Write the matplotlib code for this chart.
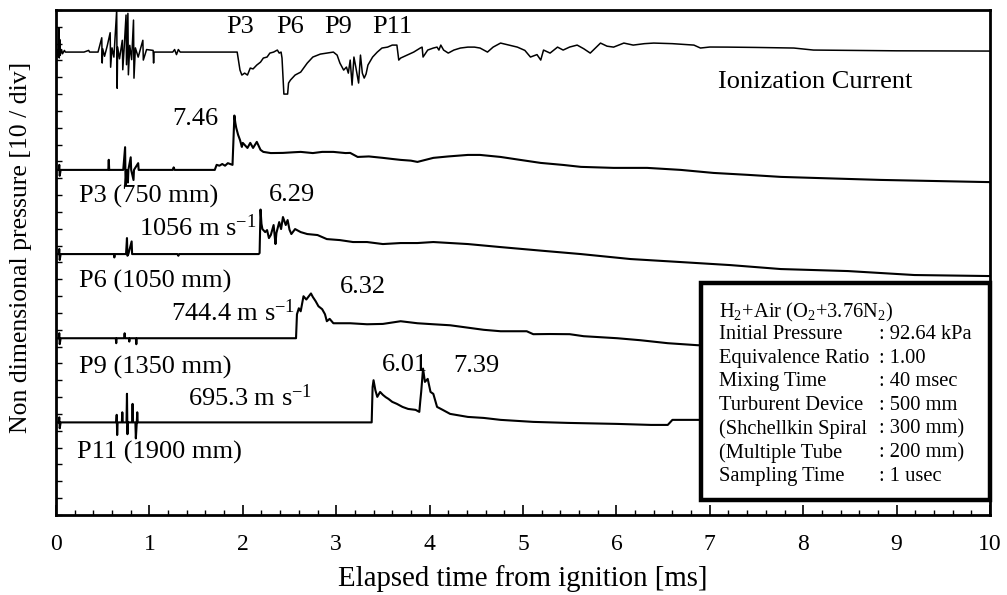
import matplotlib
matplotlib.use("Agg")
import matplotlib.pyplot as plt
from matplotlib.patches import Rectangle
from matplotlib.ticker import MultipleLocator

plt.rcParams["font.family"] = ["Liberation Serif", "DejaVu Serif"]
plt.rcParams["mathtext.fontset"] = "custom"
plt.rcParams["mathtext.rm"] = "Liberation Serif"
plt.rcParams["mathtext.it"] = "Liberation Serif:italic"

# ---- Ionization current (relative to its own baseline) ----
ion_t = [0.0, 0.02, 0.025, 0.03, 0.035, 0.04, 0.045, 0.06, 0.07, 0.09, 0.1,
         0.3, 0.35, 0.36, 0.45, 0.49, 0.495, 0.5, 0.52, 0.55, 0.58, 0.585, 0.6,
         0.62, 0.65, 0.655, 0.66, 0.68, 0.71, 0.715, 0.73, 0.75, 0.755, 0.77,
         0.775, 0.79, 0.81, 0.83, 0.835, 0.85, 0.88, 0.93, 0.935, 0.97, 1.04,
         1.045, 1.05, 1.25, 1.27, 1.29, 1.31, 1.33, 1.94,
         1.97, 1.99, 2.02, 2.05, 2.08, 2.11, 2.15, 2.19, 2.22, 2.26, 2.29, 2.33,
         2.37, 2.39, 2.41, 2.42, 2.43, 2.44, 2.48, 2.49, 2.51, 2.56, 2.62, 2.69,
         2.75, 2.83, 2.90, 2.97, 3.01, 3.04, 3.08, 3.11, 3.13, 3.15, 3.17, 3.19,
         3.21, 3.24, 3.26, 3.28, 3.30, 3.32, 3.34, 3.39, 3.44, 3.49, 3.55, 3.60,
         3.65, 3.67, 3.69, 3.76, 3.83, 3.90, 3.92, 3.93, 3.98, 4.04, 4.08, 4.10,
         4.12, 4.15, 4.20, 4.26, 4.33, 4.41, 4.48, 4.54, 4.62, 4.68, 4.76, 4.85,
         4.94, 5.02, 5.08, 5.15, 5.19, 5.22, 5.29, 5.37, 5.43, 5.50, 5.58, 5.65,
         5.72, 5.83, 5.90, 5.97, 6.08, 6.18, 6.30, 6.40, 6.60, 6.83, 6.90, 7.00,
         7.19, 7.50, 7.90, 8.11, 9.00, 9.90, 10.0]
ion_v = [0.0, 0.3, -0.6, 2.9, -0.7, 1.5, -0.4, 0.3, -0.2, 0.2, 0.0,
         0.0, 0.2, 0.0, 0.0, 1.7, -1.3, 0.4, -0.5, 0.8, 2.3, -1.8, 0.5,
         -0.6, 5.0, -4.3, 0.6, -0.8, 1.4, -2.1, 0.5, 4.4, -1.5, 4.6,
         -2.7, 0.8, -0.9, 3.8, -3.1, 0.5, -0.6, 1.4, -0.95, 0.3, 0.2,
         -1.3, 0.0, 0.0, 0.3, -0.3, 0.3, 0.0, 0.0,
         -2.14, -2.73, -2.5, -2.73, -1.9, -2.0, -1.54, -1.19, -0.71, -0.59, -0.12, 0.0,
         0.24, -0.12, 0.0, -0.71, -2.97, -4.99, -4.99, -3.68, -3.33, -2.73, -2.38, -1.31,
         -0.59, -0.24, -0.12, 0.0, -0.36, -1.31, -2.14, -1.78, -2.5, -0.95, -3.92, -0.59,
         -1.78, -3.68, -0.36, -2.5, -3.09, -2.6, -1.54, -0.59, 0.0, 0.48, 0.59, 0.83,
         0.83, -0.95, -0.71, -0.36, 0.0, 0.48, 0.59, -0.59, 0.24, 0.48, 0.59, 0.24,
         0.83, 0.24, -0.12, 0.24, 0.48, 0.59, 0.59, 0.48, 0.0, 0.59, 1.07, 0.83,
         0.59, 0.2, -0.59, -0.3, -0.95, 0.24, -0.12, 0.59, 0.24, 0.6, 0.83, 0.4,
         -0.12, 1.07, 0.7, 0.59, 1.07, 0.83, 1.0, 1.07, 1.0, 0.83, 0.48, 0.6,
         0.59, 0.55, 0.48, 0.24, 0.15, 0.12, 0.12]

# ---- Non-dimensional pressure p/p0 ----
p3_t = [0.0, 0.03, 0.035, 0.04, 0.05, 0.56, 0.565, 0.57, 0.72, 0.74, 0.745,
        0.755, 0.77, 0.775, 0.80, 0.805, 0.83, 0.835, 0.88, 0.885, 1.25, 1.26,
        1.27, 1.70, 1.72, 1.75, 1.78, 1.81, 1.84, 1.89,
        1.91, 1.92, 1.93, 1.95, 1.97, 1.99, 2.00, 2.05, 2.08, 2.11, 2.15, 2.19,
        2.22, 2.30, 2.43, 2.55, 2.62, 2.75, 2.85, 2.97, 3.10, 3.15, 3.23, 3.35,
        3.50, 3.60, 3.69, 3.80, 3.87, 4.04, 4.20, 4.41, 4.54, 4.76, 4.97, 5.19,
        5.43, 5.62, 5.97, 6.33, 6.69, 7.04, 7.41, 7.76, 8.11, 8.83, 9.90, 10.0]
p3_v = [1.0, 1.0, 1.6, 0.3, 1.0, 1.0, 2.2, 1.0, 1.0, 3.7, -0.8,
        1.0, -0.5, 1.0, 2.5, 1.0, -0.2, 1.0, 1.8, 1.0, 1.0, 1.3,
        1.0, 1.0, 1.6, 1.5, 1.7, 1.5, 1.8, 1.6,
        7.46, 6.6, 5.99, 5.16, 4.56, 3.73, 4.21, 3.61, 4.21, 3.61, 4.33, 3.38,
        3.14, 3.0, 3.02, 3.1, 3.14, 3.0, 3.14, 3.14, 3.0, 3.02, 2.54, 2.6,
        2.43, 2.3, 2.19, 2.1, 1.95, 2.43, 2.6, 2.78, 2.78, 2.54, 2.19, 1.83,
        1.59, 1.36, 1.24, 1.24, 1.0, 0.64, 0.41, 0.17, 0.05, -0.19, -0.43, -0.45]

p6_t = [0.0, 0.03, 0.035, 0.04, 0.05, 0.62, 0.625, 0.63, 0.75, 0.76, 0.765,
        0.775, 0.81, 0.815, 0.9, 1.3, 1.31, 1.32, 2.17, 2.18,
        2.19, 2.20, 2.21, 2.24, 2.26, 2.28, 2.30, 2.33, 2.35, 2.36, 2.39, 2.41,
        2.43, 2.46, 2.48, 2.50, 2.52, 2.56, 2.62, 2.69, 2.80, 2.90, 3.04, 3.18,
        3.33, 3.50, 3.69, 3.87, 4.04, 4.41, 4.76, 5.20, 5.62, 6.15, 6.69, 7.22,
        7.76, 8.48, 9.19, 9.98, 10.0]
p6_v = [1.0, 1.0, 1.6, 0.3, 1.0, 1.0, 0.6, 1.0, 1.0, 2.9, 0.8,
        1.0, 2.5, 1.0, 1.0, 1.0, 0.8, 1.0, 1.0, 1.12,
        6.29, 4.6, 3.97, 3.61, 3.85, 2.9, 3.26, 4.45, 2.19, 3.5, 4.80, 3.97,
        5.40, 4.45, 5.04, 3.9, 3.38, 3.97, 3.61, 3.38, 3.26, 2.78, 2.66, 2.43,
        2.43, 2.19, 2.31, 2.31, 2.43, 2.19, 1.83, 1.4, 1.0, 0.41, 0.05, -0.31,
        -0.78, -1.02, -1.49, -1.61, -1.61]

p9_t = [0.0, 0.03, 0.035, 0.04, 0.05, 0.64, 0.645, 0.65, 0.73, 0.735, 0.74,
        0.78, 0.785, 0.79, 0.855, 0.86, 0.865, 2.57,
        2.58, 2.60, 2.62, 2.65, 2.68, 2.73, 2.75, 2.78, 2.81, 2.85, 2.88, 2.90,
        2.93, 2.97, 3.15, 3.33, 3.50, 3.69, 3.87, 4.04, 4.22, 4.58, 4.76, 5.04,
        5.11, 5.29, 5.50, 5.65, 6.01, 6.26, 6.55, 6.87, 7.50, 10.0]
p9_v = [1.0, 1.0, 1.6, 0.3, 1.0, 1.0, 0.41, 1.0, 1.0, 1.59, 1.0,
        1.0, 0.6, 1.0, 1.0, 0.29, 1.0, 1.0,
        3.85, 4.56, 4.2, 5.99, 5.6, 6.32, 5.9, 5.40, 4.80, 4.45, 3.85, 3.02,
        3.3, 2.78, 2.78, 2.66, 2.7, 3.02, 2.78, 2.66, 2.54, 2.0, 1.83, 1.83,
        1.48, 1.5, 1.48, 1.24, 1.0, 0.76, 0.41, 0.17, 0.0, -0.3]

p11_t = [0.0, 0.03, 0.035, 0.04, 0.05, 0.645, 0.65, 0.655, 0.66, 0.705, 0.71,
         0.715, 0.755, 0.76, 0.765, 0.77, 0.815, 0.82, 0.825, 0.85, 0.855,
         0.865, 0.87, 0.875, 3.38,
         3.39, 3.40, 3.42, 3.44, 3.47, 3.50, 3.53, 3.56, 3.60, 3.65, 3.71, 3.77,
         3.85, 3.89, 3.90, 3.91, 3.93, 3.95, 3.98, 4.01, 4.04, 4.08, 4.14, 4.22,
         4.41, 4.58, 4.76, 5.11, 5.48, 6.01, 6.37, 6.55, 6.60, 6.87, 8.0, 10.0]
p11_v = [1.0, 1.0, 1.6, 0.3, 1.0, 1.0, 1.9, -0.5, 1.0, 1.0, 2.2,
         1.0, 1.0, 4.4, -0.4, 1.0, 1.0, 3.2, 1.0, 1.0, -0.9,
         1.0, 2.2, 1.0, 1.0,
         5.2, 6.01, 4.8, 4.03, 4.62, 4.27, 4.0, 3.79, 3.44, 3.20, 2.84, 2.60,
         2.49, 2.25, 3.5, 4.62, 7.39, 5.81, 6.17, 4.62, 4.39, 2.84, 2.49, 2.01,
         1.65, 1.53, 1.30, 1.06, 0.94, 0.82, 0.70, 0.70, 1.30, 1.30, 1.2, 1.1]

# vertical position of each trace on the 10/div grid
ion_offset = 55.0
p_offsets = [40.0, 30.0, 20.0, 10.0]
p_series = [(p3_t, p3_v), (p6_t, p6_v), (p9_t, p9_v), (p11_t, p11_v)]

fig = plt.figure(figsize=(10.07, 5.95), dpi=100)
ax = fig.add_axes([0.0556, 0.1345, 0.9275, 0.8487])

ax.plot(ion_t, [ion_offset + v for v in ion_v], color="black", lw=1.1, zorder=3)
for off, (t, v) in zip(p_offsets, p_series):
    ax.plot(t, [off + val for val in v], color="black", lw=1.5, zorder=3)

ax.set_xlim(0, 10)
ax.set_ylim(0, 60)
ax.xaxis.set_major_locator(MultipleLocator(1))
ax.xaxis.set_minor_locator(MultipleLocator(0.2))
ax.yaxis.set_major_locator(MultipleLocator(2))
ax.set_yticklabels([])
ax.tick_params(axis="x", which="major", direction="in", length=7, width=1.2,
               labelsize=17, pad=14, top=False)
ax.tick_params(axis="x", which="minor", direction="in", length=3.5, width=1.0,
               top=False)
ax.tick_params(axis="y", which="major", direction="in", length=4, width=1.0,
               right=False)
for sp in ax.spines.values():
    sp.set_linewidth(2.0)

ax.set_xlabel("Elapsed time from ignition [ms]", fontsize=20.8, labelpad=7)
ax.set_ylabel("Non dimensional pressure [10 / div]", fontsize=18.5)
ax.yaxis.set_label_coords(-0.026, 0.529)

fs = 19
ax.text(1.97, 58.0, "P3", fontsize=fs, ha="center", va="center")
ax.text(2.51, 58.0, "P6", fontsize=fs, ha="center", va="center")
ax.text(3.02, 58.0, "P9", fontsize=fs, ha="center", va="center")
ax.text(3.60, 58.0, "P11", fontsize=fs, ha="center", va="center")
ax.text(8.13, 51.4, "Ionization Current", fontsize=fs, ha="center", va="center")

ax.text(1.49, 47.1, "7.46", fontsize=fs, ha="center", va="center")
ax.text(0.25, 37.8, "P3 (750 mm)", fontsize=fs, ha="left", va="center")
ax.text(2.53, 38.0, "6.29", fontsize=fs, ha="center", va="center")
ax.text(2.15, 34.1, r"1056 m s$^{\mathregular{-1}}$", fontsize=fs, ha="right", va="center")
ax.text(0.25, 27.7, "P6 (1050 mm)", fontsize=fs, ha="left", va="center")
ax.text(3.29, 27.1, "6.32", fontsize=fs, ha="center", va="center")
ax.text(2.56, 24.0, r"744.4 m s$^{\mathregular{-1}}$", fontsize=fs, ha="right", va="center")
ax.text(0.25, 17.5, "P9 (1350 mm)", fontsize=fs, ha="left", va="center")
ax.text(3.74, 17.8, "6.01", fontsize=fs, ha="center", va="center")
ax.text(4.50, 17.7, "7.39", fontsize=fs, ha="center", va="center")
ax.text(2.74, 13.9, r"695.3 m s$^{\mathregular{-1}}$", fontsize=fs, ha="right", va="center")
ax.text(0.22, 7.4, "P11 (1900 mm)", fontsize=fs, ha="left", va="center")

# conditions box
ax.add_patch(Rectangle((6.91, 1.78), 3.09, 25.78, facecolor="white",
                       edgecolor="black", lw=3.2, zorder=5, clip_on=False))
box_rows = [
    ("H$_{\\mathregular{2}}$+Air (O$_{\\mathregular{2}}$+3.76N$_{\\mathregular{2}}$)", ""),
    ("Initial Pressure", ": 92.64 kPa"),
    ("Equivalence Ratio", ": 1.00"),
    ("Mixing Time", ": 40 msec"),
    ("Turburent Device", ": 500 mm"),
    ("(Shchellkin Spiral", ": 300 mm)"),
    ("(Multiple Tube", ": 200 mm)"),
    ("Sampling Time", ": 1 usec"),
]
row_y = [24.0, 21.39, 18.65, 15.88, 13.03, 10.18, 7.33, 4.55]
for (lab, val), yy in zip(box_rows, row_y):
    ax.text(7.10, yy, lab, fontsize=14.8, ha="left", va="center", zorder=6)
    if val:
        ax.text(8.81, yy, val, fontsize=14.8, ha="left", va="center", zorder=6)

fig.savefig("out.png", dpi=100)
